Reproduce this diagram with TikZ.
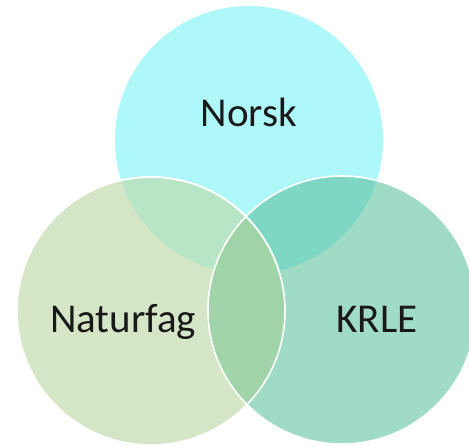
\documentclass[tikz,border=0pt]{standalone}
\usepackage{fontspec}
\setmainfont{Carlito}
\definecolor{ctop}{HTML}{AEF8FA}
\definecolor{cleft}{HTML}{D5E6C7}
\definecolor{cright}{HTML}{A0DBC6}
\definecolor{ctl}{HTML}{B9E5C7}
\definecolor{ctr}{HTML}{7DD7C2}
\definecolor{clr}{HTML}{A1D5A9}
\definecolor{call}{HTML}{9FD4A7}
\begin{document}
\begin{tikzpicture}[x=1pt,y=-1pt,
  lbl/.style={font=\fontsize{41}{41}\selectfont, text=black!90, inner sep=0pt, anchor=base},
  rim/.style={draw=white, line width=1.6pt}]
\useasboundingbox (0,0) rectangle (469,445);
\def\r{134}
\coordinate (T) at (249,140);
\coordinate (L) at (151,311);
\coordinate (R) at (342,310);
% base fills
\fill[ctop] (T) circle (\r);
\fill[cleft] (L) circle (\r);
\fill[cright] (R) circle (\r);
% pairwise overlaps
\begin{scope}
  \clip (T) circle (\r);
  \fill[ctl] (L) circle (\r);
  \fill[ctr] (R) circle (\r);
\end{scope}
\begin{scope}
  \clip (L) circle (\r);
  \fill[clr] (R) circle (\r);
  \clip (R) circle (\r);
  \fill[call] (T) circle (\r);
\end{scope}
% rims
\draw[rim] (L) circle (\r);
\begin{scope}
  \clip (T) circle (\r);
  \draw[rim] (L) circle (\r);
\end{scope}
\draw[rim] (R) circle (\r);
% labels
\node[lbl] (norsk) at (249,126) {Norsk};
\node[lbl] (natur) at (123,332) {Naturfag};
\node[lbl] (krle) at (377,332) {KRLE};
\end{tikzpicture}
\end{document}
